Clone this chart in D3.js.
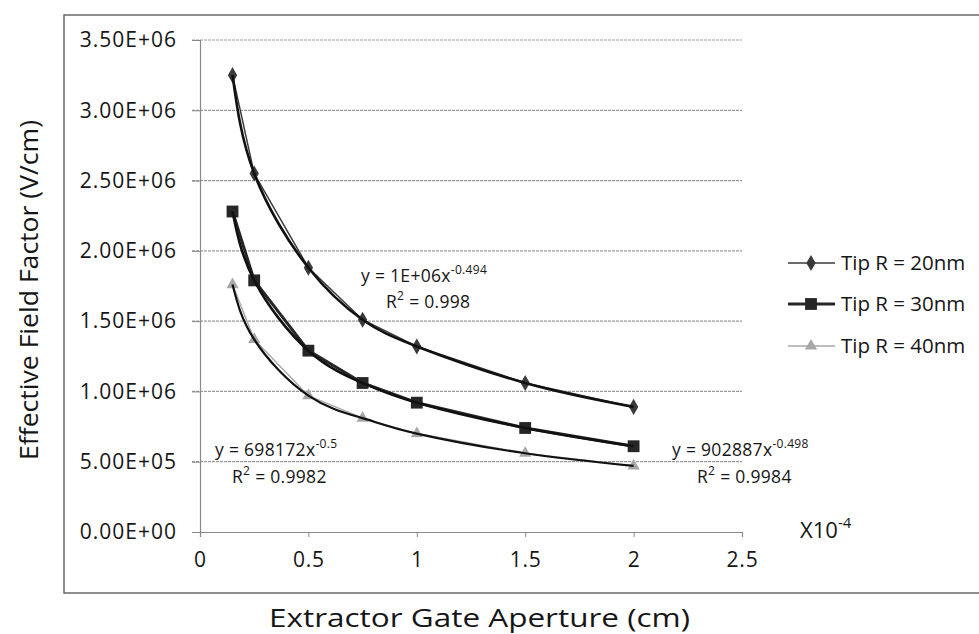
<!DOCTYPE html>
<html><head><meta charset="utf-8">
<script src="https://cdn.jsdelivr.net/npm/d3@7"></script>
<style>
body{margin:0;background:#fff;}
svg{display:block;font-family:"Open Sans",sans-serif;}
</style></head>
<body><svg id="c" width="979" height="634"></svg>
<script>
const xValues = [0.15, 0.25, 0.5, 0.75, 1, 1.5, 2];
const seriesNames = ["Tip R = 20nm", "Tip R = 30nm", "Tip R = 40nm"];
const tip20 = [3.25e6, 2.55e6, 1.88e6, 1.51e6, 1.32e6, 1.06e6, 0.89e6];
const tip30 = [2.28e6, 1.79e6, 1.29e6, 1.06e6, 0.92e6, 0.74e6, 0.61e6];
const tip40 = [1.76e6, 1.37e6, 0.97e6, 0.81e6, 0.70e6, 0.56e6, 0.47e6];
const xTicks = [0, 0.5, 1, 1.5, 2, 2.5];
const yTicks = [0, 5e5, 1e6, 1.5e6, 2e6, 2.5e6, 3e6, 3.5e6];
const fitEquations = ["1E+06x", "698172x", "902887x"];
const fitExponents = ["-0.494", "-0.5", "-0.498"];
const fitR2 = ["0.998", "0.9982", "0.9984"];

const svg = d3.select("#c");
const x = d3.scaleLinear().domain([0, 2.5]).range([200, 742]);
const y = d3.scaleLinear().domain([0, 3.5e6]).range([532, 40]);
const ink = "#161616";

// outer frame
svg.append("path").attr("d","M990,15 H64 V593 H990").attr("fill","none").attr("stroke","#6a6a6a").attr("stroke-width",1.5);

// gridlines
svg.append("g").selectAll("line").data(yTicks.slice(1)).join("line")
  .attr("x1",192).attr("x2",742).attr("y1",d=>y(d)).attr("y2",d=>y(d))
  .attr("stroke","#9a9a9a").attr("stroke-width",1.2).attr("stroke-dasharray","3,1");

// y axis
const yAxis = d3.axisLeft(y).tickValues(yTicks).tickSize(8).tickFormat(d=>{
  const s = d3.format(".2e")(d).toUpperCase();
  return s.replace(/E([+-])(\d)$/,"E$10$2");
});
const ga = svg.append("g").attr("transform","translate(200,0)").call(yAxis);
ga.select(".domain").attr("stroke","#888").attr("stroke-width",1.2);
ga.selectAll(".tick line").attr("stroke","#888");
ga.selectAll(".tick text").attr("font-size",21).attr("fill",ink).attr("x",-23)
  .attr("font-family","Open Sans").attr("letter-spacing","1px");

// x axis
const xAxis = d3.axisBottom(x).tickValues(xTicks).tickSize(5).tickFormat(d3.format(""));
const gx = svg.append("g").attr("transform","translate(0,532)").call(xAxis);
gx.select(".domain").attr("stroke","#888").attr("stroke-width",1.2);
gx.selectAll(".tick line").attr("stroke","#888");
gx.selectAll(".tick text").attr("font-size",21).attr("fill",ink).attr("y",20)
  .attr("font-family","Open Sans").attr("letter-spacing","0.8px");

// axis titles
svg.append("text").attr("x",269).attr("y",627)
  .attr("font-size",25).attr("fill",ink)
  .attr("textLength",421).attr("lengthAdjust","spacingAndGlyphs")
  .text("Extractor Gate Aperture (cm)");
svg.append("text").attr("transform","translate(38,460) rotate(-90)")
  .attr("font-size",25).attr("fill",ink)
  .attr("textLength",340).attr("lengthAdjust","spacingAndGlyphs")
  .text("Effective Field Factor (V/cm)");
const xl = svg.append("text").attr("x",800).attr("y",538).attr("font-size",22).attr("fill",ink);
xl.append("tspan").text("X10");
xl.append("tspan").attr("dy",-10).attr("font-size",15).text("-4");

const data = [tip20, tip30, tip40];
const seriesColor = ["#3a3a3a","#262626","#a8a8a8"];
const seriesWidth = [1.5, 3, 1.5];
const trendWidth = [2.6, 2.6, 2.2];

const straight = d3.line().x((d,i)=>x(xValues[i])).y(d=>y(d));
const smooth = d3.line().x((d,i)=>x(xValues[i])).y(d=>y(d)).curve(d3.curveNatural);

// series lines
data.forEach((s,k)=>{
  svg.append("path").attr("d",straight(s)).attr("fill","none")
    .attr("stroke",seriesColor[k]).attr("stroke-width",seriesWidth[k]);
});
// markers
const sym = [d3.symbolDiamond, d3.symbolSquare, d3.symbolTriangle];
const symSize = [75, 140, 65];
data.forEach((s,k)=>{
  svg.append("g").selectAll("path").data(s).join("path")
    .attr("d",d3.symbol().type(sym[k]).size(symSize[k]))
    .attr("transform",(d,i)=>`translate(${x(xValues[i])},${y(d)})`)
    .attr("fill",seriesColor[k]);
});
// trendlines (smooth curve through the points)
data.forEach((s,k)=>{
  svg.append("path").attr("d",smooth(s)).attr("fill","none")
    .attr("stroke","#111").attr("stroke-width",trendWidth[k]);
});

// fit labels
const eqPos = [[361,282,386,308],[215,456,232,483],[672,456,697,483]];
eqPos.forEach((p,k)=>{
  const t = svg.append("text").attr("x",p[0]).attr("y",p[1]).attr("font-size",17.5)
    .attr("letter-spacing","0.3px").attr("fill",ink);
  t.append("tspan").text("y = "+fitEquations[k]);
  t.append("tspan").attr("dy",-8).attr("font-size",12).text(fitExponents[k]);
  const r = svg.append("text").attr("x",p[2]).attr("y",p[3]).attr("font-size",17.5)
    .attr("letter-spacing","0.3px").attr("fill",ink);
  r.append("tspan").text("R");
  r.append("tspan").attr("dy",-8).attr("font-size",12).text("2");
  r.append("tspan").attr("dy",8).text(" = "+fitR2[k]);
});

// legend
const legY = [263, 304, 346];
const leg = svg.append("g");
seriesNames.forEach((n,k)=>{
  leg.append("line").attr("x1",788).attr("x2",835).attr("y1",legY[k]).attr("y2",legY[k])
    .attr("stroke",seriesColor[k]).attr("stroke-width",seriesWidth[k]);
  leg.append("path").attr("d",d3.symbol().type(sym[k]).size(symSize[k]))
    .attr("transform",`translate(811,${legY[k]})`).attr("fill",seriesColor[k]);
  leg.append("text").attr("x",841).attr("y",legY[k]+7).attr("font-size",20.5)
    .attr("fill",ink).text(n);
});
</script></body></html>
